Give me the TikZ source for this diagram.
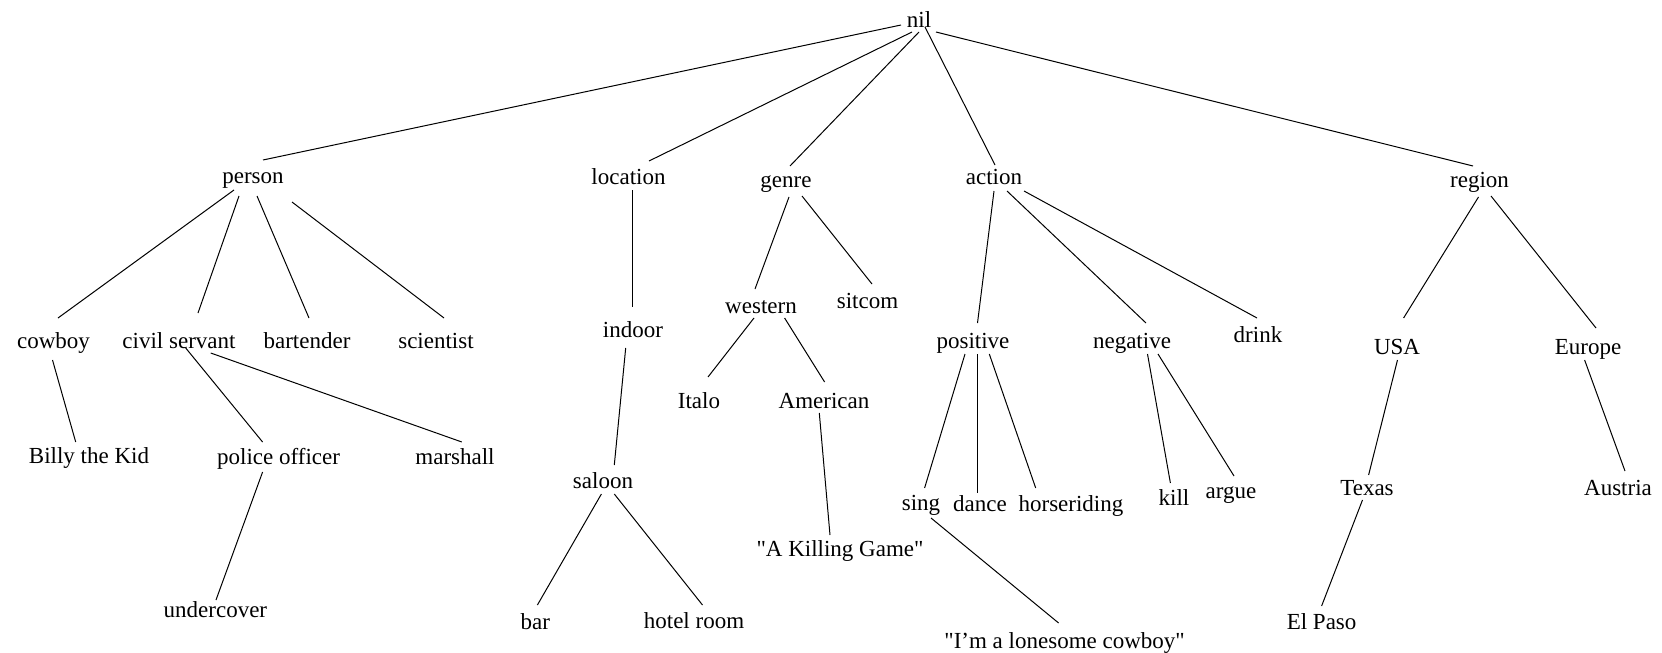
\documentclass[tikz,border=0pt]{standalone}
\usepackage{fontspec}
\setmainfont{Liberation Serif}
\usetikzlibrary{calc}
\newcommand{\branch}[4]{\draw ($(#1.base)+(#2)$) -- ($(#3.base)+(#4)$);}

\begin{document}
\begin{tikzpicture}[x=0.5pt, y=-0.5pt, line width=0.5pt,
    word/.style={inner sep=0pt, anchor=base, font=\fontsize{11.5}{13}\selectfont}]
\useasboundingbox (0,0) rectangle (1662,653);
% top
\node[word] (nil) at (919,27) {nil};
\node[word] (person) at (253,183) {person};
\node[word] (location) at (628.5,184) {location};
\node[word] (genre) at (786,187) {genre};
\node[word] (action) at (994,184) {action};
\node[word] (region) at (1479.5,187) {region};
% second level
\node[word] (cowboy) at (53.5,348) {cowboy};
\node[word] (civil) at (179,348) {civil servant};
\node[word] (bartender) at (307,348) {bartender};
\node[word] (scientist) at (436,348) {scientist};
\node[word] (indoor) at (633,337) {indoor};
\node[word] (western) at (761,313) {western};
\node[word] (sitcom) at (867.5,308) {sitcom};
\node[word] (positive) at (973,348) {positive};
\node[word] (negative) at (1132,348) {negative};
\node[word] (drink) at (1258,342) {drink};
\node[word] (usa) at (1397,354) {USA};
\node[word] (europe) at (1588,354) {Europe};
% third level
\node[word] (billy) at (89,463) {Billy the Kid};
\node[word] (police) at (278.6,464) {police officer};
\node[word] (marshall) at (455,464) {marshall};
\node[word] (italo) at (699,408) {Italo};
\node[word] (american) at (824,408) {American};
\node[word] (saloon) at (603,488) {saloon};
\node[word] (sing) at (921,510) {sing};
\node[word] (dance) at (980,511) {dance};
\node[word] (horse) at (1071,511) {horseriding};
\node[word] (kill) at (1174,505) {kill};
\node[word] (argue) at (1231,498) {argue};
\node[word] (texas) at (1367,495) {Texas};
\node[word] (austria) at (1618,495) {Austria};
% bottom
\node[word] (killing) at (840,556) {\textquotedbl A Killing Game\textquotedbl};
\node[word] (undercover) at (215.4,617) {undercover};
\node[word] (bar) at (535.4,629) {bar};
\node[word] (hotel) at (694,628) {hotel room};
\node[word] (elpaso) at (1321.6,629) {El Paso};
\node[word] (lonesome) at (1064.6,648) {\textquotedbl I'm a lonesome cowboy\textquotedbl};
% edges
\branch{nil}{-18,-2}{person}{10,-23}
\branch{nil}{-7,5}{location}{20.5,-23}
\branch{nil}{0,5}{genre}{4,-21}
\branch{nil}{6,0}{action}{1,-19}
\branch{nil}{17,5}{region}{-6.5,-21}
\branch{person}{-19,7}{cowboy}{4.5,-30}
\branch{person}{-14,13}{civil}{19,-35}
\branch{person}{4,13}{bartender}{2,-30}
\branch{person}{39,19}{scientist}{8,-30}
\branch{location}{3.5,6}{indoor}{-1,-30}
\branch{genre}{3,10}{western}{-6,-24}
\branch{genre}{16,9}{sitcom}{4.5,-24}
\branch{action}{0,7}{positive}{4.5,-25}
\branch{action}{13,7}{negative}{14,-25}
\branch{action}{30,7}{drink}{-1,-24}
\branch{region}{-1,10}{usa}{6.6,-36}
\branch{region}{11.5,9}{europe}{8,-26}
\branch{cowboy}{-1,12}{billy}{-13.3,-21}
\branch{civil}{6.7,0}{police}{-16,-22}
\branch{civil}{31.7,5}{marshall}{6.8,-22}
\branch{police}{-16,8}{undercover}{0.6,-17}
\branch{indoor}{-7.3,11}{saloon}{11.3,-23}
\branch{saloon}{-1.6,6}{bar}{2,-24}
\branch{saloon}{11.3,6}{hotel}{8.5,-23}
\branch{western}{-7,5}{italo}{9,-31}
\branch{western}{23.6,5}{american}{0.6,-26}
\branch{american}{-4.7,5}{killing}{-10,-21}
\branch{positive}{-8,6}{sing}{3.6,-22}
\branch{positive}{4.5,6}{dance}{-2.5,-18}
\branch{positive}{16.3,6}{horse}{-35.3,-23}
\branch{sing}{10,8}{lonesome}{-6,-25}
\branch{negative}{15.5,6}{kill}{-3.6,-22}
\branch{negative}{26,6}{argue}{3,-22}
\branch{usa}{0.5,6}{texas}{1.6,-20}
\branch{texas}{-4.5,5}{elpaso}{0,-23}
\branch{europe}{-3.4,6}{austria}{7,-24}
\end{tikzpicture}
\end{document}
